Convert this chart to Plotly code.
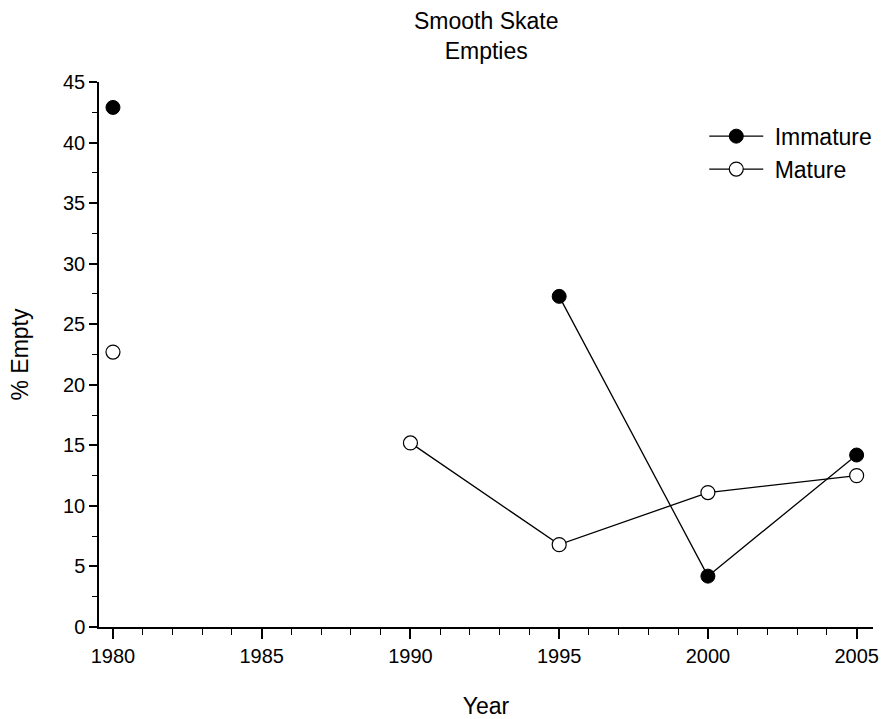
import plotly.graph_objects as go

# datos
years = [1980, 1985, 1990, 1995, 2000, 2005]
immature = [42.9, None, None, 27.3, 4.2, 14.2]
mature = [22.7, None, 15.2, 6.8, 11.1, 12.5]

fig = go.Figure()

fig.add_trace(go.Scatter(x=years, y=immature, name='\u00a0Immature', mode='lines+markers',
                         line=dict(color='black', width=1.3),
                         marker=dict(symbol='circle', size=14, color='black',
                                     line=dict(color='black', width=1)),
                         connectgaps=False))
fig.add_trace(go.Scatter(x=years, y=mature, name='\u00a0Mature', mode='lines+markers',
                         line=dict(color='black', width=1.3),
                         marker=dict(symbol='circle', size=14, color='white',
                                     line=dict(color='black', width=1.2)),
                         connectgaps=False))

fig.update_layout(
    width=887, height=719,
    paper_bgcolor='white', plot_bgcolor='white',
    font=dict(family='Liberation Sans, Arial, sans-serif', size=20, color='black'),
    margin=dict(l=99, r=10, t=82, b=92),
    showlegend=True,
    legend=dict(x=0.782, y=0.94, xanchor='left', yanchor='top', bgcolor='rgba(0,0,0,0)',
                font=dict(size=23), itemwidth=54, tracegroupgap=0),
)

# titulo en dos lineas
fig.add_annotation(text='Smooth Skate<br>Empties', xref='paper', yref='paper', x=0.5, y=1.084,
                   xanchor='center', yanchor='middle', showarrow=False, font=dict(size=23))

fig.update_xaxes(range=[1979.53, 2005.55], tickvals=[1980, 1985, 1990, 1995, 2000, 2005],
                 ticks='outside', ticklen=10, tickwidth=1.5, tickcolor='black', tickfont=dict(size=20),
                 minor=dict(dtick=1, ticks='outside', ticklen=6, tickwidth=1.2, tickcolor='black'),
                 showline=True, linecolor='black', linewidth=1.5, showgrid=False, zeroline=False,
                 automargin=False,
                 title=dict(text='Year', font=dict(size=23), standoff=35))
fig.update_yaxes(range=[0, 45], tickvals=list(range(0, 50, 5)),
                 ticks='outside', ticklen=8, tickwidth=1.5, tickcolor='black', tickfont=dict(size=20),
                 minor=dict(dtick=2.5, ticks='outside', ticklen=5, tickwidth=1.2, tickcolor='black'),
                 showline=True, linecolor='black', linewidth=1.5, showgrid=False, zeroline=False,
                 automargin=False,
                 title=dict(text='% Empty', font=dict(size=23), standoff=28))

fig.write_html("out.html", config={'displayModeBar': False},
               post_script="document.body.style.margin='0';")
